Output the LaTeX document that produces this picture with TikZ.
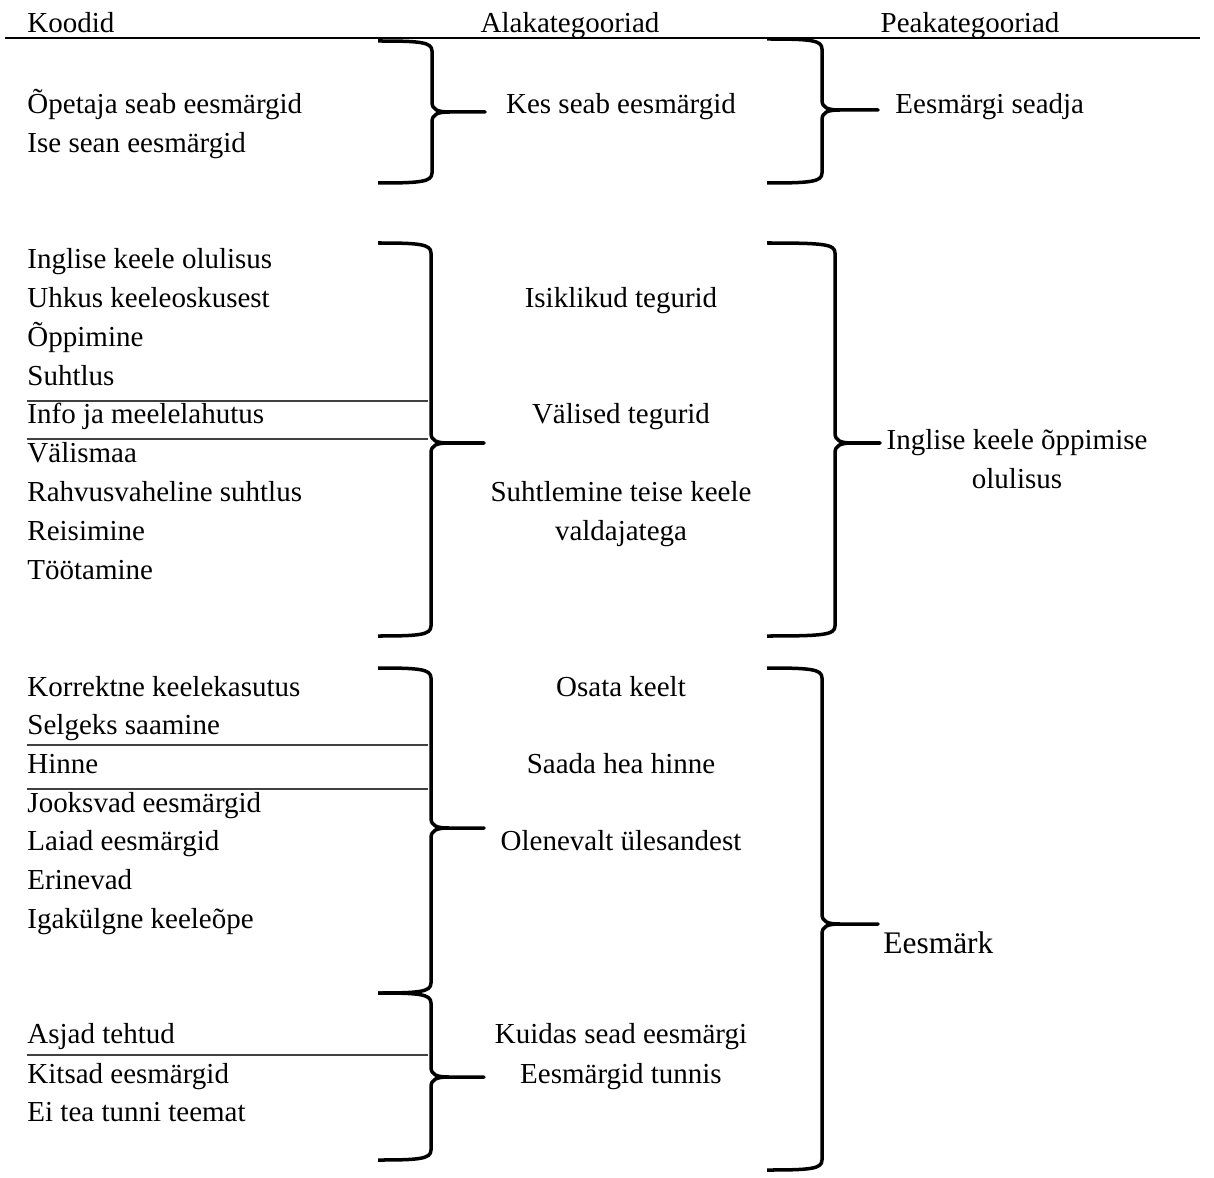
\documentclass[tikz,border=0pt]{standalone}
\usepackage{fontspec}
\setmainfont{Liberation Serif}
\usepackage{tikz}

% brace: left end x, stem x, tip x, top y, tip y, bottom y
\newcommand{\curlybr}[6]{%
\draw[bracket] (#1,#4) .. controls (#2-12,#4) and (#2,#4+1) .. (#2,#4+10)
	-- (#2,#5-10) .. controls (#2,#5-2) and (#2+6,#5) .. (#2+18,#5) -- (#3,#5)
	-- (#2+18,#5) .. controls (#2+6,#5) and (#2,#5+2) .. (#2,#5+10)
	-- (#2,#6-10) .. controls (#2,#6-1) and (#2-12,#6) .. (#1,#6);}

\begin{document}
\begin{tikzpicture}[x=0.414pt,y=-0.414pt,
	every node/.style={inner sep=0pt,yshift=-1.2pt,font=\fontsize{12}{16.1}\selectfont},
	code/.style={anchor=base west},
	sub/.style={anchor=base},
	bracket/.style={line width=1.45pt,line join=round},
	sepline/.style={line width=0.45pt,black!75}]
\useasboundingbox (0,0) rectangle (1214,1178);

% headers
\node[code] (koodid) at (27,30) {Koodid};
\node[sub] (ala) at (570,30) {Alakategooriad};
\node[sub] (pea) at (970,30) {Peakategooriad};
\draw[line width=0.8pt] (5,38) -- (1200,38);

% koodid
\node[code] (k1) at (27,111) {Õpetaja seab eesmärgid};
\node[code] (k2) at (27,150) {Ise sean eesmärgid};
\node[code] (k3) at (27,266) {Inglise keele olulisus};
\node[code] (k4) at (27,305) {Uhkus keeleoskusest};
\node[code] (k5) at (27,344) {Õppimine};
\node[code] (k6) at (27,383) {Suhtlus};
\node[code] (k7) at (27,421) {Info ja meelelahutus};
\node[code] (k8) at (27,460) {Välismaa};
\node[code] (k9) at (27,499) {Rahvusvaheline suhtlus};
\node[code] (k10) at (27,538) {Reisimine};
\node[code] (k11) at (27,577) {Töötamine};
\node[code] (k12) at (27,694) {Korrektne keelekasutus};
\node[code] (k13) at (27,732) {Selgeks saamine};
\node[code] (k14) at (27,771) {Hinne};
\node[code] (k15) at (27,810) {Jooksvad eesmärgid};
\node[code] (k16) at (27,848) {Laiad eesmärgid};
\node[code] (k17) at (27,887) {Erinevad};
\node[code] (k18) at (27,926) {Igakülgne keeleõpe};
\node[code] (k19) at (27,1041) {Asjad tehtud};
\node[code] (k20) at (27,1081) {Kitsad eesmärgid};
\node[code] (k21) at (27,1119) {Ei tea tunni teemat};

% separators
\draw[sepline] (27,401) -- (428,401);
\draw[sepline] (27,439) -- (428,439);
\draw[sepline] (27,745) -- (428,745);
\draw[sepline] (27,789) -- (428,789);
\draw[sepline] (27,1055) -- (428,1055);

% alakategooriad
\node[sub] (a1) at (621,111) {Kes seab eesmärgid};
\node[sub] (a2) at (621,305) {Isiklikud tegurid};
\node[sub] (a3) at (621,421) {Välised tegurid};
\node[align=center] (a4) at (621,511) {Suhtlemine teise keele\\valdajatega};
\node[sub] (a5) at (621,694) {Osata keelt};
\node[sub] (a6) at (621,771) {Saada hea hinne};
\node[sub] (a7) at (621,848) {Olenevalt ülesandest};
\node[sub] (a8) at (621,1041) {Kuidas sead eesmärgi};
\node[sub] (a9) at (621,1081) {Eesmärgid tunnis};

% peakategooriad
\node[code] (p1) at (895,111) {Eesmärgi seadja};
\node[align=center] (p2) at (1017,456) {Inglise keele õppimise\\olulisus};
\node[code,font=\fontsize{13}{16}\selectfont] (p3) at (883,951) {Eesmärk};

% braces
\curlybr{378}{432}{485}{41}{112}{183}
\curlybr{378}{431}{484}{243}{443}{636}
\curlybr{378}{431}{484}{668}{828}{993}
\curlybr{378}{431}{484}{993}{1077}{1160}
\curlybr{767}{822}{878}{39}{110}{183}
\curlybr{767}{835}{880}{243}{443}{636}
\curlybr{767}{822}{878}{668}{924}{1170}
\end{tikzpicture}
\end{document}
